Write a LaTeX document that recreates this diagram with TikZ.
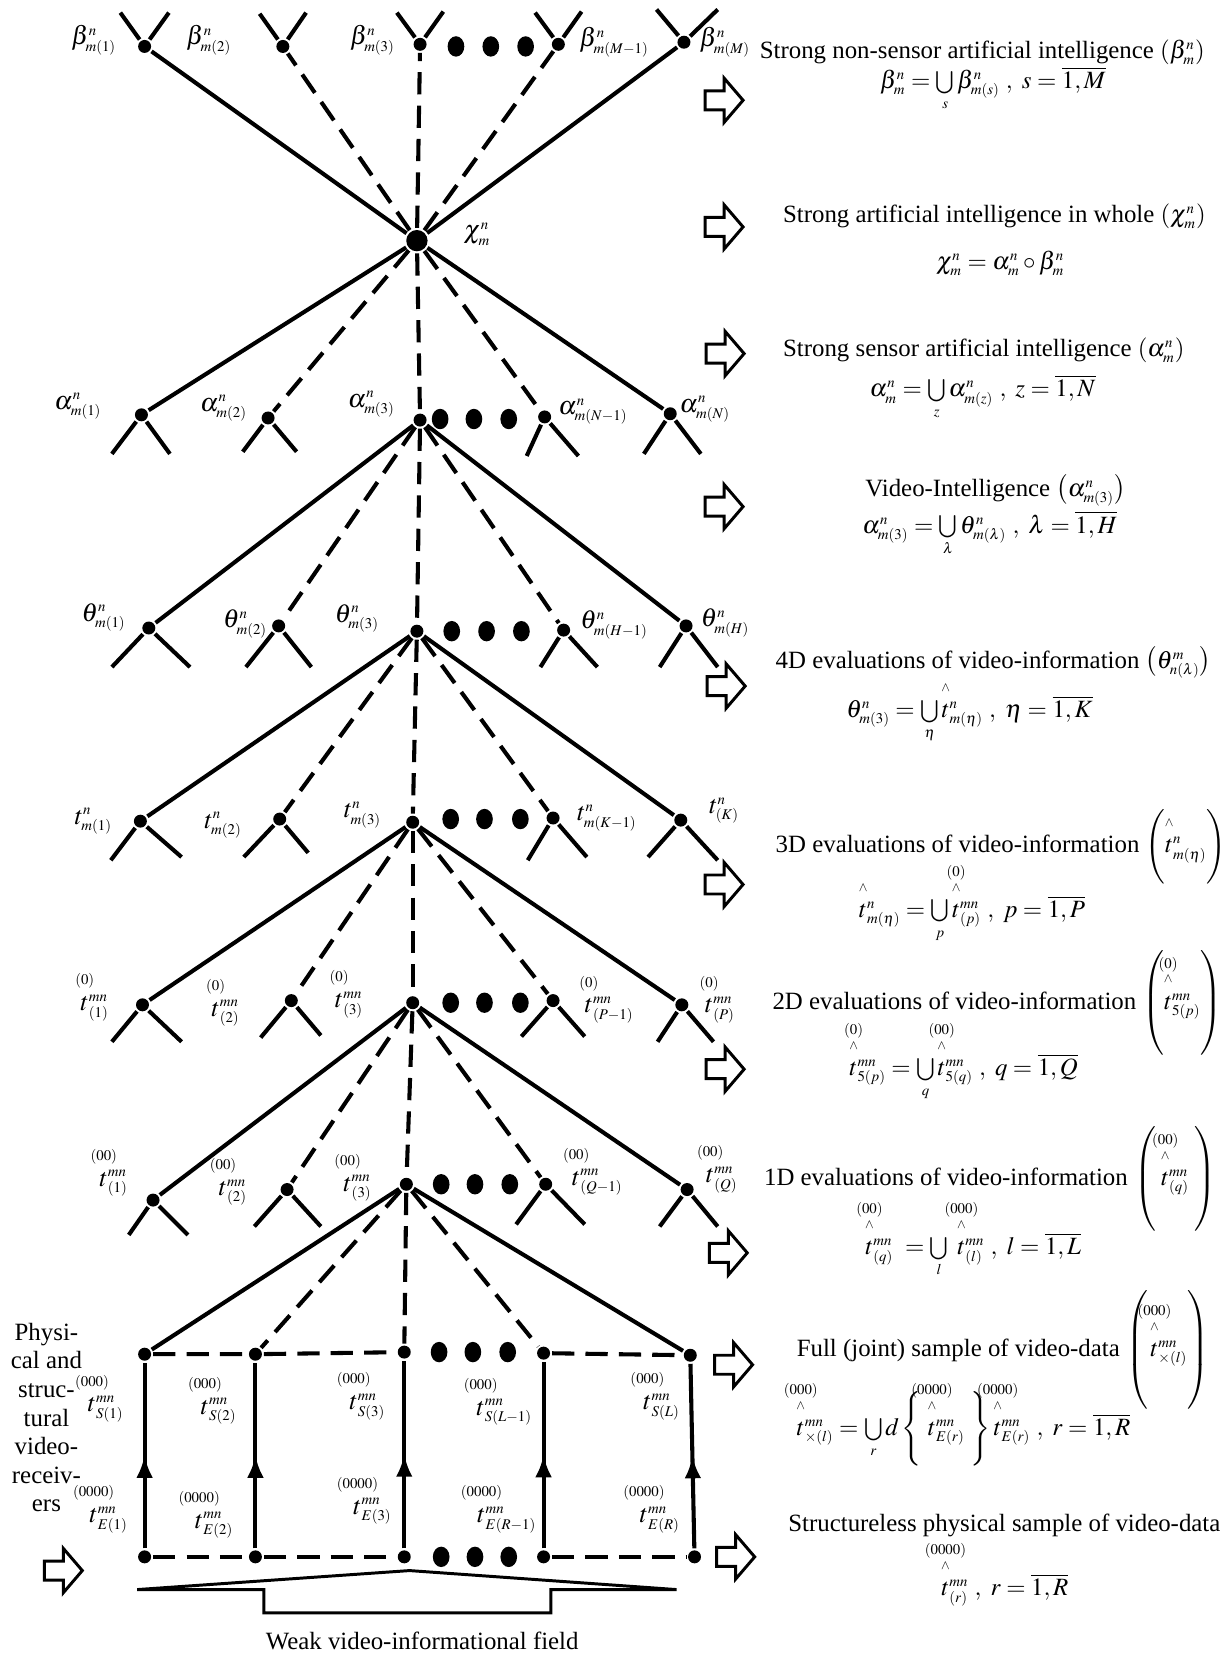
\documentclass[tikz,border=0pt]{standalone}
\usepackage{amsmath}
\usepackage{mathptmx}
\usepackage[no-math]{fontspec}
\setmainfont{Liberation Serif}
\usetikzlibrary{arrows.meta,decorations.markings,shapes.geometric}

\DeclareMathSizes{14}{14}{8}{6}
\DeclareMathSizes{13.4}{13.4}{8}{6}

% t with an order mark above it, and the hatted one
\newcommand{\tpow}[1]{\mathord{\setbox0\hbox{$t$}\hbox to\wd0{\hss\smash{\raisebox{1em}{\footnotesize$#1$}}\hss}\kern-\wd0\box0}}
\newcommand{\thpow}[1]{\mathord{\setbox0\hbox{$t$}\hbox to\wd0{\hss\smash{\raisebox{1.65em}{\footnotesize$#1$}}\hss}\kern-\wd0\hbox to\wd0{\hss\smash{\raisebox{1.05em}{\scriptsize$\wedge$}}\hss}\kern-\wd0\box0}}

\tikzset{rarrow/.pic={\draw[line width=1.6pt,line join=miter] (-18,-9) -- (0,-9) -- (0,-21) -- (18,0) -- (0,21) -- (0,9) -- (-18,9) -- cycle;}}

\begin{document}
\begin{tikzpicture}[x=0.02cm,y=-0.02cm,line width=2.2pt,
    dot/.style={circle,fill,inner sep=0pt,minimum size=7pt},
    hub/.style={circle,fill,inner sep=0pt,minimum size=11.5pt},
    etcdot/.style={ellipse,fill,inner sep=0pt,minimum width=9pt,minimum height=11pt},
    dsh/.style={dash pattern=on 12pt off 6pt},
    lbl/.style={font=\fontsize{14}{16}\selectfont,inner sep=0pt},
    txt/.style={font=\fontsize{13.4}{15.4}\selectfont,inner sep=0pt},
    rtxt/.style={txt,anchor=base west},
    midup/.style={postaction={decorate},decoration={markings,mark=at position 0.5 with {\arrow{Latex[length=12pt,width=9pt]}}}}]
    \useasboundingbox (0,0) rectangle (1166,1568);

    % beta level
    \node[dot] (b1) at (137,44) {}; \coordinate (b1l) at (114,12); \coordinate (b1r) at (160,12);
    \node[dot] (b2) at (268,44) {}; \coordinate (b2l) at (246,13); \coordinate (b2r) at (290,12);
    \node[dot] (b3) at (398,42) {}; \coordinate (b3l) at (376,12); \coordinate (b3r) at (420,11);
    \node[dot] (b4) at (529,42) {}; \coordinate (b4l) at (507,12); \coordinate (b4r) at (551,11);
    \node[dot] (b5) at (648,40) {}; \coordinate (b5l) at (622,9); \coordinate (b5r) at (680,9);
    \node[etcdot] (bd1) at (432,44) {}; \node[etcdot] (bd2) at (465,44) {}; \node[etcdot] (bd3) at (498,44) {};
    \draw (b1l) -- (b1) -- (b1r); \draw (b2l) -- (b2) -- (b2r); \draw (b3l) -- (b3) -- (b3r);
    \draw (b4l) -- (b4) -- (b4r); \draw (b5l) -- (b5) -- (b5r);
    \node[lbl,anchor=east] (lb1) at (112,38) {$\beta^n_{m(1)}$};
    \node[lbl,anchor=east] (lb2) at (221,38) {$\beta^n_{m(2)}$};
    \node[lbl,anchor=east] (lb3) at (376,38) {$\beta^n_{m(3)}$};
    \node[lbl,anchor=west] (lb4) at (547,40) {$\beta^n_{m(M-1)}$};
    \node[lbl,anchor=west] (lb5) at (661,40) {$\beta^n_{m(M)}$};

    % chi
    \node[hub] (chi) at (395,228) {};
    \node[lbl] (lchi) at (452,222) {$\chi^n_m$};
    \draw (chi) -- (b1); \draw[dsh] (chi) -- (b2); \draw[dsh] (chi) -- (b3);
    \draw[dsh] (chi) -- (b4); \draw (chi) -- (b5);

    % alpha level
    \node[dot] (a1) at (134,393) {}; \coordinate (a1l) at (106,430); \coordinate (a1r) at (161,430);
    \node[dot] (a2) at (254,396) {}; \coordinate (a2l) at (230,428); \coordinate (a2r) at (281,428);
    \node[dot] (a3) at (398,398) {};
    \node[dot] (a4) at (516,395) {}; \coordinate (a4l) at (499,432); \coordinate (a4r) at (548,432);
    \node[dot] (a5) at (635,392) {}; \coordinate (a5l) at (610,430); \coordinate (a5r) at (664,430);
    \node[etcdot] (ad1) at (417,397) {}; \node[etcdot] (ad2) at (449,397) {}; \node[etcdot] (ad3) at (482,397) {};
    \draw (a1l) -- (a1) -- (a1r); \draw (a2l) -- (a2) -- (a2r);
    \draw (a4l) -- (a4) -- (a4r); \draw (a5l) -- (a5) -- (a5r);
    \draw (chi) -- (a1); \draw[dsh] (chi) -- (a2); \draw[dsh] (chi) -- (a3);
    \draw[dsh] (chi) -- (a4); \draw (chi) -- (a5);
    \node[lbl,anchor=east] (la1) at (98,385) {$\alpha^n_{m(1)}$};
    \node[lbl,anchor=east] (la2) at (236,387) {$\alpha^n_{m(2)}$};
    \node[lbl,anchor=east] (la3) at (376,383) {$\alpha^n_{m(3)}$};
    \node[lbl,anchor=west] (la4) at (527,390) {$\alpha^n_{m(N-1)}$};
    \node[lbl,anchor=west] (la5) at (642,388) {$\alpha^n_{m(N)}$};

    % theta level
    \node[dot] (th1) at (141,595) {}; \coordinate (th1l) at (106,632); \coordinate (th1r) at (180,632);
    \node[dot] (th2) at (264,593) {}; \coordinate (th2l) at (233,632); \coordinate (th2r) at (295,632);
    \node[dot] (th3) at (395,598) {};
    \node[dot] (th4) at (534,597) {}; \coordinate (th4l) at (512,632); \coordinate (th4r) at (566,632);
    \node[dot] (th5) at (650,593) {}; \coordinate (th5l) at (625,632); \coordinate (th5r) at (680,632);
    \node[etcdot] (thd1) at (428,598) {}; \node[etcdot] (thd2) at (461,598) {}; \node[etcdot] (thd3) at (494,598) {};
    \draw (th1l) -- (th1) -- (th1r); \draw (th2l) -- (th2) -- (th2r);
    \draw (th4l) -- (th4) -- (th4r); \draw (th5l) -- (th5) -- (th5r);
    \draw (a3) -- (th1); \draw[dsh] (a3) -- (th2); \draw[dsh] (a3) -- (th3);
    \draw[dsh] (a3) -- (th4); \draw (a3) -- (th5);
    \node[lbl,anchor=east] (lth1) at (121,585) {$\theta^n_{m(1)}$};
    \node[lbl,anchor=east] (lth2) at (255,591) {$\theta^n_{m(2)}$};
    \node[lbl,anchor=east] (lth3) at (361,586) {$\theta^n_{m(3)}$};
    \node[lbl,anchor=west] (lth4) at (548,592) {$\theta^n_{m(H-1)}$};
    \node[lbl,anchor=west] (lth5) at (662,590) {$\theta^n_{m(H)}$};

    % t level
    \node[dot] (t1) at (133,778) {}; \coordinate (t1l) at (105,815); \coordinate (t1r) at (172,812);
    \node[dot] (t2) at (265,776) {}; \coordinate (t2l) at (231,812); \coordinate (t2r) at (292,808);
    \node[dot] (t3) at (391,779) {};
    \node[dot] (t4) at (524,775) {}; \coordinate (t4l) at (500,815); \coordinate (t4r) at (556,812);
    \node[dot] (t5) at (645,777) {}; \coordinate (t5l) at (614,812); \coordinate (t5r) at (680,815);
    \node[etcdot] (td1) at (427,776) {}; \node[etcdot] (td2) at (459,776) {}; \node[etcdot] (td3) at (493,776) {};
    \draw (t1l) -- (t1) -- (t1r); \draw (t2l) -- (t2) -- (t2r);
    \draw (t4l) -- (t4) -- (t4r); \draw (t5l) -- (t5) -- (t5r);
    \draw (th3) -- (t1); \draw[dsh] (th3) -- (t2); \draw[dsh] (th3) -- (t3);
    \draw[dsh] (th3) -- (t4); \draw (th3) -- (t5);
    \node[lbl,anchor=east] (lt1) at (108,778) {$t^n_{m(1)}$};
    \node[lbl,anchor=east] (lt2) at (231,782) {$t^n_{m(2)}$};
    \node[lbl,anchor=east] (lt3) at (363,772) {$t^n_{m(3)}$};
    \node[lbl,anchor=west] (lt4) at (545,775) {$t^n_{m(K-1)}$};
    \node[lbl,anchor=west] (lt5) at (670,768) {$t^n_{(K)}$};

    % p level
    \node[dot] (p1) at (135,952) {}; \coordinate (p1l) at (106,987); \coordinate (p1r) at (172,987);
    \node[dot] (p2) at (276,948) {}; \coordinate (p2l) at (247,983); \coordinate (p2r) at (304,981);
    \node[dot] (p3) at (391,950) {};
    \node[dot] (p4) at (524,948) {}; \coordinate (p4l) at (494,982); \coordinate (p4r) at (554,982);
    \node[dot] (p5) at (646,952) {}; \coordinate (p5l) at (623,987); \coordinate (p5r) at (676,987);
    \node[etcdot] (pd1) at (427,950) {}; \node[etcdot] (pd2) at (459,950) {}; \node[etcdot] (pd3) at (493,950) {};
    \draw (p1l) -- (p1) -- (p1r); \draw (p2l) -- (p2) -- (p2r);
    \draw (p4l) -- (p4) -- (p4r); \draw (p5l) -- (p5) -- (p5r);
    \draw (t3) -- (p1); \draw[dsh] (t3) -- (p2); \draw[dsh] (t3) -- (p3);
    \draw[dsh] (t3) -- (p4); \draw (t3) -- (p5);
    \node[lbl,anchor=east] (lp1) at (105,955) {$\tpow{(0)}^{mn}_{(1)}$};
    \node[lbl,anchor=east] (lp2) at (229,960) {$\tpow{(0)}^{mn}_{(2)}$};
    \node[lbl,anchor=east] (lp3) at (346,952) {$\tpow{(0)}^{mn}_{(3)}$};
    \node[lbl,anchor=west] (lp4) at (552,957) {$\tpow{(0)}^{mn}_{(P-1)}$};
    \node[lbl,anchor=west] (lp5) at (666,957) {$\tpow{(0)}^{mn}_{(P)}$};

    % q level
    \node[dot] (q1) at (145,1137) {}; \coordinate (q1l) at (122,1170); \coordinate (q1r) at (178,1170);
    \node[dot] (q2) at (272,1127) {}; \coordinate (q2l) at (241,1162); \coordinate (q2r) at (304,1162);
    \node[dot] (q3) at (385,1122) {};
    \node[dot] (q4) at (517,1122) {}; \coordinate (q4l) at (489,1160); \coordinate (q4r) at (554,1160);
    \node[dot] (q5) at (651,1127) {}; \coordinate (q5l) at (625,1162); \coordinate (q5r) at (680,1162);
    \node[etcdot] (qd1) at (418,1122) {}; \node[etcdot] (qd2) at (450,1122) {}; \node[etcdot] (qd3) at (483,1122) {};
    \draw (q1l) -- (q1) -- (q1r); \draw (q2l) -- (q2) -- (q2r);
    \draw (q4l) -- (q4) -- (q4r); \draw (q5l) -- (q5) -- (q5r);
    \draw (p3) -- (q1); \draw[dsh] (p3) -- (q2); \draw[dsh] (p3) -- (q3);
    \draw[dsh] (p3) -- (q4); \draw (p3) -- (q5);
    \node[lbl,anchor=east] (lq1) at (123,1121) {$\tpow{(00)}^{mn}_{(1)}$};
    \node[lbl,anchor=east] (lq2) at (236,1130) {$\tpow{(00)}^{mn}_{(2)}$};
    \node[lbl,anchor=east] (lq3) at (354,1126) {$\tpow{(00)}^{mn}_{(3)}$};
    \node[lbl,anchor=west] (lq4) at (540,1120) {$\tpow{(00)}^{mn}_{(Q-1)}$};
    \node[lbl,anchor=west] (lq5) at (667,1118) {$\tpow{(00)}^{mn}_{(Q)}$};

    % receivers
    \node[dot] (s1) at (137,1283) {}; \node[dot] (s2) at (242,1283) {}; \node[dot] (s3) at (383,1281) {};
    \node[dot] (s4) at (515,1282) {}; \node[dot] (s5) at (654,1284) {};
    \node[etcdot] (sd1) at (416,1281) {}; \node[etcdot] (sd2) at (448,1281) {}; \node[etcdot] (sd3) at (481,1281) {};
    \node[dot] (e1) at (137,1475) {}; \node[dot] (e2) at (242,1475) {}; \node[dot] (e3) at (383,1475) {};
    \node[dot] (e4) at (515,1475) {}; \node[dot] (e5) at (658,1475) {};
    \node[etcdot] (ed1) at (418,1475) {}; \node[etcdot] (ed2) at (450,1475) {}; \node[etcdot] (ed3) at (482,1475) {};
    \draw (q3) -- (s1); \draw[dsh] (q3) -- (s2); \draw[dsh] (q3) -- (s3);
    \draw[dsh] (q3) -- (s4); \draw (q3) -- (s5);
    \draw[dsh] (s1) -- (s2) -- (s3); \draw[dsh] (s4) -- (s5);
    \draw[dsh] (e1) -- (e2) -- (e3); \draw[dsh] (e4) -- (e5);
    \draw[midup] (e1) -- (s1); \draw[midup] (e2) -- (s2); \draw[midup] (e3) -- (s3);
    \draw[midup] (e4) -- (s4); \draw[midup] (e5) -- (s5);
    \node[lbl,anchor=east] (ls1) at (119,1335) {$\tpow{(000)}^{mn}_{S(1)}$};
    \node[lbl,anchor=east] (ls2) at (226,1337) {$\tpow{(000)}^{mn}_{S(2)}$};
    \node[lbl,anchor=east] (ls3) at (367,1333) {$\tpow{(000)}^{mn}_{S(3)}$};
    \node[lbl,anchor=east] (ls4) at (506,1338) {$\tpow{(000)}^{mn}_{S(L-1)}$};
    \node[lbl,anchor=east] (ls5) at (646,1333) {$\tpow{(000)}^{mn}_{S(L)}$};
    \node[lbl,anchor=east] (le1) at (123,1440) {$\tpow{(0000)}^{mn}_{E(1)}$};
    \node[lbl,anchor=east] (le2) at (223,1445) {$\tpow{(0000)}^{mn}_{E(2)}$};
    \node[lbl,anchor=east] (le3) at (373,1432) {$\tpow{(0000)}^{mn}_{E(3)}$};
    \node[lbl,anchor=east] (le4) at (510,1440) {$\tpow{(0000)}^{mn}_{E(R-1)}$};
    \node[lbl,anchor=east] (le5) at (646,1440) {$\tpow{(0000)}^{mn}_{E(R)}$};
    \node[txt,align=center] (recv) at (44,1343) {Physi-\\cal and\\struc-\\tural\\video-\\receiv-\\ers};
    \pic at (60,1488) {rarrow};

    % field
    \draw[line width=1.6pt] (130,1506) -- (388,1488) -- (641,1506) -- (522,1506) -- (522,1528) -- (250,1528) -- (250,1506) -- cycle;
    \node[txt] (field) at (400,1555) {Weak video-informational field};

    % right column
    \pic at (686,95) {rarrow}; \pic at (686,215) {rarrow}; \pic at (687,335) {rarrow};
    \pic at (686,480) {rarrow}; \pic at (688,650) {rarrow}; \pic at (686,838) {rarrow};
    \pic at (687,1013) {rarrow}; \pic at (690,1187) {rarrow}; \pic at (695,1293) {rarrow};
    \pic at (697,1475) {rarrow};

    \node[rtxt] (h1) at (718,55) {Strong non-sensor artificial intelligence $\left(\beta^n_m\right)$};
    \node[rtxt] (f1) at (832,84) {$\beta^n_m=\bigcup\limits_s\beta^n_{m(s)}\ ,\ s=\overline{1,M}$};
    \node[rtxt] (h2) at (740,211) {Strong artificial intelligence in whole $\left(\chi^n_m\right)$};
    \node[rtxt] (f2) at (885,255) {$\chi^n_m=\alpha^n_m\circ\beta^n_m$};
    \node[rtxt] (h3) at (740,338) {Strong sensor artificial intelligence $\left(\alpha^n_m\right)$};
    \node[rtxt] (f3) at (822,376) {$\alpha^n_m=\bigcup\limits_z\alpha^n_{m(z)}\ ,\ z=\overline{1,N}$};
    \node[rtxt] (h4) at (818,470) {Video-Intelligence $\left(\alpha^n_{m(3)}\right)$};
    \node[rtxt] (f4) at (815,505) {$\alpha^n_{m(3)}=\bigcup\limits_\lambda\theta^n_{m(\lambda)}\ ,\ \lambda=\overline{1,H}$};
    \node[rtxt] (h5) at (733,633) {4D evaluations of video-information $\left(\theta^m_{n(\lambda)}\right)$};
    \node[rtxt] (f5) at (800,680) {$\theta^n_{m(3)}=\bigcup\limits_\eta\thpow{}^n_{m(\eta)}\ ,\ \eta=\overline{1,K}$};
    \node[rtxt] (h6) at (733,808) {3D evaluations of video-information $\left(\rule[-0.62cm]{0pt}{1.24cm}\thpow{}^n_{m(\eta)}\right)$};
    \node[rtxt] (f6) at (812,869) {$\thpow{}^n_{m(\eta)}=\bigcup\limits_p\thpow{(0)}^{mn}_{(p)}\ ,\ p=\overline{1,P}$};
    \node[rtxt] (h7) at (730,956) {2D evaluations of video-information $\left(\rule[-0.95cm]{0pt}{1.9cm}\thpow{(0)}^{mn}_{5(p)}\right)$};
    \node[rtxt] (f7) at (803,1019) {$\thpow{(0)}^{mn}_{5(p)}=\bigcup\limits_q\thpow{(00)}^{mn}_{5(q)}\ ,\ q=\overline{1,Q}$};
    \node[rtxt] (h8) at (722,1123) {1D evaluations of video-information $\left(\rule[-0.95cm]{0pt}{1.9cm}\;\thpow{(00)}^{mn}_{(q)}\;\right)$};
    \node[rtxt] (f8) at (818,1189) {$\thpow{(00)}^{mn}_{(q)}\ =\bigcup\limits_l\ \thpow{(000)}^{mn}_{(l)}\ ,\ l=\overline{1,L}$};
    \node[rtxt] (h9) at (753,1285) {Full (joint) sample of video-data $\left(\rule[-1cm]{0pt}{2cm}\,\thpow{(000)}^{mn}_{\times(l)}\right)$};
    \node[rtxt] (f9) at (753,1360) {$\thpow{(000)}^{mn}_{\times(l)}=\bigcup\limits_r d\left\{\rule[-0.65cm]{0pt}{1.3cm}\ \thpow{(0000)}^{mn}_{E(r)}\ \right\}\thpow{(0000)}^{mn}_{E(r)}\ ,\ r=\overline{1,R}$};
    \node[rtxt] (h10) at (745,1451) {Structureless physical sample of video-data};
    \node[rtxt] (f10) at (890,1512) {$\thpow{(0000)}^{mn}_{(r)}\ ,\ r=\overline{1,R}$};
\end{tikzpicture}
\end{document}
